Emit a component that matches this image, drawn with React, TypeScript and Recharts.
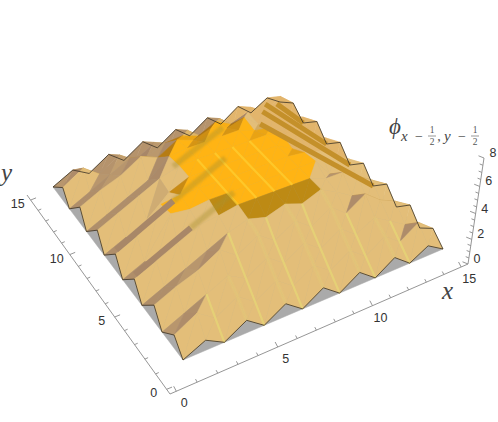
import { ScatterChart, Scatter, XAxis, YAxis } from 'recharts';

// surface heights, one row per y step
const row0 = [0, 0.8, 0, 1, 0, 1, 0, 1, 0, 1, 0, 1, 0, 0.8, 0];
const row1 = [0.8, 1.8, 0.8, 1.8, 0.8, 1.8, 0.8, 1.8, 0.8, 1.8, 0.8, 1.8, 0.8, 1.8, 0.8];
const row2 = [0, 0.8, 1.6, 2.4, 1.6, 2.6, 1.6, 2.6, 1.6, 2.6, 1.6, 2.4, 1.6, 0.8, 0];
const row3 = [1, 1.8, 2.4, 3.4, 2.4, 3.4, 2.4, 3.4, 2.4, 3.4, 2.4, 3.4, 2.4, 1.8, 1];
const row4 = [0, 0.8, 1.6, 2.4, 3.2, 3.7, 3.3, 3.8, 3.3, 3.9, 3.2, 2.4, 1.6, 0.8, 0];
const row5 = [1, 1.8, 2.6, 3.4, 3.6, 3.9, 3.9, 3.9, 3.9, 3.9, 3.4, 3.4, 2.6, 1.8, 1];
const row6 = [0, 0.8, 3.9, 3.7, 3.9, 3.9, 3.9, 3.9, 3.9, 3.9, 3.9, 2.4, 1.6, 0.8, 0];
const row7 = [1, 1.8, 3.7, 3.9, 3.9, 3.9, 3.9, 3.9, 3.9, 3.9, 3.75, 3.4, 2.6, 1.8, 1];
const row8 = [0, 0.8, 1.6, 3.2, 3.9, 3.9, 3.9, 3.9, 3.9, 3.9, 3.2, 2.4, 1.6, 0.8, 0];
const row9 = [1, 1.8, 2.6, 3.4, 3.9, 3.9, 3.9, 3.9, 3.9, 3.9, 3.5, 3.4, 2.6, 1.8, 1];
const row10 = [0, 0.8, 1.6, 2.4, 3.75, 3.9, 3.9, 3.9, 3.9, 3.4, 3.2, 2.4, 1.6, 0.8, 0];
const row11 = [1, 1.8, 2.4, 3.4, 2.8, 3.7, 3.2, 3.7, 3.2, 3.6, 2.6, 3.4, 2.4, 1.8, 1];
const row12 = [0, 0.8, 1.6, 2.4, 2, 2.6, 2.7, 2.2, 2.9, 2.2, 2.7, 2.4, 1.6, 0.8, 0];
const row13 = [0.8, 1.8, 0.8, 1.8, 0.8, 1.8, 0.8, 1.8, 0.8, 1.8, 0.8, 1.8, 0.8, 1.8, 0.8];
const row14 = [0, 0.8, 0, 1, 0, 1, 0, 1, 0, 1, 0, 1, 0, 0.8, 0];
const heights = [row0, row1, row2, row3, row4, row5, row6, row7, row8, row9, row10, row11, row12, row13, row14];

// 0 shaded tan, 1 orange top, 2 dark rim, 3 and 5 flat tan, 4 half orange
const cellKinds = [
  '00000000000000',
  '00000000000000',
  '00000000000000',
  '00000000000000',
  '00000222200000',
  '05552111140000',
  '05111111110000',
  '05511111113333',
  '00051111113333',
  '00001111113333',
  '00001111103333',
  '00000111103333',
  '00000000003333',
  '00000000003333',
];

// golden steps behind the top, from the right edge notches
const stepFrom = [[14, 6, 0], [14, 8, 0], [14, 10, 0], [14, 12, 0]];
const stepTo = [[9.3, 10, 3.8], [11, 12, 2.3], [12, 13, 1.6], [13.3, 13.5, 0.6]];

// dark bands of the left face, then seen through the orange top
const leftFrom = [[0.3, 5.5, 0.7], [0.3, 7.5, 0.7]];
const leftTo = [[2.9, 5.5, 2.8], [3, 7.5, 3]];
const bandFrom = [[2.9, 5.5, 2.8], [3, 7.5, 3], [4, 9.5, 3.4]];
const bandTo = [[5, 5.5, 4.4], [5.6, 7.5, 5], [6.6, 9.5, 5.2]];

const xTicks = [0, 5, 10, 15];
const yTicks = [0, 5, 10, 15];
const zTicks = [0, 2, 4, 6, 8];
const xyMinor = [1, 2, 3, 4, 6, 7, 8, 9, 11, 12, 13, 14];
const zMinor = [0.5, 1, 1.5, 2.5, 3, 3.5, 4.5, 5, 5.5, 6.5, 7, 7.5];

const N = 14;
type P = [number, number];

function persp(s: number, w: number) {
  return s / (s + (1 - s) * w);
}
function mix(a: P, b: P, t: number): P {
  return [a[0] + (b[0] - a[0]) * t, a[1] + (b[1] - a[1]) * t];
}

// view of the surface: left and right edges, then lerp across
function project(u: number, v: number, z: number): P {
  const l = mix([183, 360], [53, 187], persp(v / N, 0.866));
  const r = mix([443, 249], [280, 102], v / N);
  const g = mix(l, r, persp(u / N, 0.88));
  const k = 13.6 - (1.8 * (u + v)) / (2 * N);
  return [g[0] + 0.16 * k * z, g[1] - k * z];
}

function mark(pts: P[], extra: object) {
  const x = pts.reduce((s, p) => s + p[0], 0) / pts.length;
  const y = pts.reduce((s, p) => s + p[1], 0) / pts.length;
  return { x, y, d: pts.map((p) => [p[0] - x, p[1] - y]), ...extra };
}

function lerpColor(a: number[], b: number[], t: number) {
  const c = a.map((v, i) => Math.round(v + (b[i] - v) * t));
  return `rgb(${c[0]},${c[1]},${c[2]})`;
}

function triColor(p: number[][], kind: string) {
  if (kind === '2') return '#bd8a14';
  if (kind === '3') return '#e2b56c';
  if (kind === '5') return '#e3be79';
  const a = [p[1][0] - p[0][0], p[1][1] - p[0][1], p[1][2] - p[0][2]];
  const b = [p[2][0] - p[0][0], p[2][1] - p[0][1], p[2][2] - p[0][2]];
  let n = [a[1] * b[2] - a[2] * b[1], a[2] * b[0] - a[0] * b[2], a[0] * b[1] - a[1] * b[0]];
  if (n[2] < 0) n = n.map((c) => -c);
  const len = Math.hypot(n[0], n[1], n[2]);
  const dot = (n[0] * 0.1 - n[1] * 0.6 + n[2] * 0.8) / len;
  const t = Math.max(0, Math.min(1, dot / 0.6));
  if (kind === '1') return lerpColor([170, 115, 20], [255, 180, 20], t);
  const dark = n[0] > 0 ? [178, 132, 48] : [168, 135, 104];
  return lerpColor(dark, [227, 190, 121], t);
}

const facets: object[] = [];
for (let sum = 2 * N - 2; sum >= 0; sum--) {
  for (let v = 0; v < N; v++) {
    const u = sum - v;
    if (u < 0 || u >= N) continue;
    const c = [
      [u, v, heights[v][u]],
      [u + 1, v, heights[v][u + 1]],
      [u + 1, v + 1, heights[v + 1][u + 1]],
      [u, v + 1, heights[v + 1][u]],
    ];
    const kind = cellKinds[v][u];
    const tris = [[c[0], c[2], c[3]], [c[0], c[1], c[2]]];
    tris.forEach((tri, i) => {
      const k = kind === '4' ? (i === 0 ? '1' : '5') : kind;
      facets.push(mark(tri.map((q) => project(q[0], q[1], q[2])), { fill: triColor(tri, k) }));
    });
  }
}

const floor = [mark([project(0, 0, 0), project(N, 0, 0), project(N, N, 0), project(0, N, 0)], { fill: '#aaaaaa' })];

const edges: object[] = [];
for (let i = 0; i < N; i++) {
  edges.push(mark([project(i, 0, heights[0][i]), project(i + 1, 0, heights[0][i + 1])], {}));
  edges.push(mark([project(0, i, heights[i][0]), project(0, i + 1, heights[i + 1][0])], {}));
  edges.push(mark([project(N, i, heights[i][N]), project(N, i + 1, heights[i + 1][N])], {}));
  edges.push(mark([project(i, N, heights[N][i]), project(i + 1, N, heights[N][i + 1])], {}));
}

function alongV(u: number, from: number, to: number) {
  const pts: P[] = [];
  for (let v = from; v <= to; v++) pts.push(project(u, v, heights[v][u]));
  return mark(pts, {});
}
const between = (a: number[], b: number[]) => mark([project(a[0], a[1], a[2]), project(b[0], b[1], b[2])], {});

// pale ridges running up the front face
const stripes = [alongV(2, 0, 2), alongV(4, 0, 4), alongV(6, 0, 4), alongV(8, 0, 4), alongV(10, 0, 3), alongV(12, 0, 2)];
const softStripes = [alongV(3, 0, 2), alongV(5, 0, 4), alongV(7, 0, 4), alongV(9, 0, 4), alongV(11, 0, 2)];
const plateauStripes = [alongV(5, 5, 9), alongV(6, 5, 9), alongV(7, 5, 9), alongV(8, 5, 9)];
const plateauBands = bandFrom.map((a, i) => between(a, bandTo[i]));
const leftBands = leftFrom.map((a, i) => between(a, leftTo[i]));
const steps = stepFrom.map((a, i) => between(a, stepTo[i]));

// box axes
const corner: P = [170, 394];
const xEnd: P = [468, 264];
const yEnd: P = [27, 195];
const zEnd: P = [484, 158];
const xAt = (t: number) => mix(corner, xEnd, persp((t + 0.3) / 15.7, 0.9));
const yAt = (t: number) => mix(corner, yEnd, persp((t + 0.3) / 15.8, 0.8));
const zAt = (t: number) => mix(xEnd, zEnd, persp(t / 8, 1.1));

const axisLines = [mark([yEnd, corner, xEnd, zEnd], {})];
const tick = (p: P, dx: number, dy: number) => mark([p, [p[0] + dx, p[1] + dy]], {});
const ticks = [
  ...xTicks.map((t) => tick(xAt(t), -2.6, -5)),
  ...xyMinor.map((t) => tick(xAt(t), -1.6, -3)),
  ...yTicks.map((t) => tick(yAt(t), 5.4, -2.2)),
  ...xyMinor.map((t) => tick(yAt(t), 3.2, -1.4)),
  ...zTicks.map((t) => tick(zAt(t), -5.5, -2.2)),
  ...zMinor.map((t) => tick(zAt(t), -3.2, -1.3)),
];

const label = (p: P, dx: number, dy: number, text: string) => ({ x: p[0] + dx, y: p[1] + dy, text });
const labels = [
  ...xTicks.map((t) => label(xAt(t), 8, 16, String(t))),
  ...yTicks.map((t) => label(yAt(t), -13, 8, String(t))),
  ...zTicks.map((t) => label(zAt(t), 9, -1, String(t))),
];

const titles = [{ x: 0, y: 0 }];

const pointsOf = (props: any) => props.payload.d.map((p: number[]) => `${props.cx + p[0]},${props.cy + p[1]}`).join(' ');

function Poly(props: any) {
  const { payload } = props;
  return <polygon points={pointsOf(props)} fill={payload.fill} stroke={payload.fill} strokeWidth={0.5} strokeLinejoin="round" />;
}

function Edge(props: any) {
  return <polyline points={pointsOf(props)} fill="none" stroke="#3a3226" strokeWidth={0.8} />;
}

function Stripe(props: any) {
  return <polyline points={pointsOf(props)} fill="none" stroke="#e6d575" strokeWidth={2.2} strokeOpacity={0.8} style={{ filter: 'blur(0.7px)' }} />;
}

function SoftStripe(props: any) {
  return <polyline points={pointsOf(props)} fill="none" stroke="#e6d575" strokeWidth={2} strokeOpacity={0.45} style={{ filter: 'blur(0.8px)' }} />;
}

function PlateauStripe(props: any) {
  return <polyline points={pointsOf(props)} fill="none" stroke="#ffd030" strokeWidth={2.2} strokeOpacity={0.7} style={{ filter: 'blur(0.7px)' }} />;
}

function PlateauBand(props: any) {
  return <polyline points={pointsOf(props)} fill="none" stroke="#a89030" strokeWidth={6} strokeOpacity={0.4} style={{ filter: 'blur(1px)' }} />;
}

function LeftBand(props: any) {
  return <polyline points={pointsOf(props)} fill="none" stroke="#a88768" strokeWidth={6} />;
}

function Step(props: any) {
  return <polyline points={pointsOf(props)} fill="none" stroke="#c4902a" strokeWidth={5} style={{ filter: 'blur(0.4px)' }} />;
}

function AxisLine(props: any) {
  return <polyline points={pointsOf(props)} fill="none" stroke="#8a8a8a" strokeWidth={0.9} />;
}

function TickLabel(props: any) {
  const { cx, cy, payload } = props;
  return (
    <text x={cx} y={cy} textAnchor="middle" fontFamily="Liberation Sans" fontSize={12.5} fill="#333">
      {payload.text}
    </text>
  );
}

function Titles(props: any) {
  const { cx, cy } = props;
  const serif = { fontFamily: 'Liberation Serif', fontStyle: 'italic', fill: '#444' } as const;
  const plain = { fontFamily: 'Liberation Serif', fill: '#555', textAnchor: 'middle' } as const;
  return (
    <g>
      <text x={cx + 442} y={cy + 299} fontSize={25} {...serif}>x</text>
      <text x={cx + 1} y={cy + 181} fontSize={25} {...serif}>y</text>
      <text x={cx + 389} y={cy + 134} fontSize={23} {...serif}>ϕ</text>
      <text x={cx + 401} y={cy + 141} fontSize={15} {...serif}>x</text>
      <text x={cx + 419} y={cy + 141} fontSize={14} {...plain}>−</text>
      <text x={cx + 432} y={cy + 133} fontSize={9.5} {...plain}>1</text>
      <line x1={cx + 428} x2={cx + 436} y1={cy + 136} y2={cy + 136} stroke="#555" strokeWidth={0.6} />
      <text x={cx + 432} y={cy + 145} fontSize={9.5} {...plain}>2</text>
      <text x={cx + 439} y={cy + 141} fontSize={14} {...plain}>,</text>
      <text x={cx + 444} y={cy + 141} fontSize={15} {...serif}>y</text>
      <text x={cx + 462} y={cy + 141} fontSize={14} {...plain}>−</text>
      <text x={cx + 475} y={cy + 133} fontSize={9.5} {...plain}>1</text>
      <line x1={cx + 471} x2={cx + 479} y1={cy + 136} y2={cy + 136} stroke="#555" strokeWidth={0.6} />
      <text x={cx + 475} y={cy + 145} fontSize={9.5} {...plain}>2</text>
    </g>
  );
}

export default function App() {
  return (
    <div style={{ position: 'absolute', left: 0, top: 0 }}>
      <ScatterChart width={498} height={422} margin={{ top: 0, right: 0, bottom: 0, left: 0 }}>
        <XAxis type="number" dataKey="x" domain={[0, 498]} hide allowDataOverflow />
        <YAxis type="number" dataKey="y" domain={[0, 422]} reversed hide allowDataOverflow />
        <Scatter data={axisLines} shape={AxisLine} isAnimationActive={false} />
        <Scatter data={ticks} shape={AxisLine} isAnimationActive={false} />
        <Scatter data={labels} shape={TickLabel} isAnimationActive={false} />
        <Scatter data={floor} shape={Poly} isAnimationActive={false} />
        <Scatter data={facets} shape={Poly} isAnimationActive={false} />
        <Scatter data={stripes} shape={Stripe} isAnimationActive={false} />
        <Scatter data={softStripes} shape={SoftStripe} isAnimationActive={false} />
        <Scatter data={steps} shape={Step} isAnimationActive={false} />
        <Scatter data={leftBands} shape={LeftBand} isAnimationActive={false} />
        <Scatter data={plateauStripes} shape={PlateauStripe} isAnimationActive={false} />
        <Scatter data={plateauBands} shape={PlateauBand} isAnimationActive={false} />
        <Scatter data={edges} shape={Edge} isAnimationActive={false} />
        <Scatter data={titles} shape={Titles} isAnimationActive={false} />
      </ScatterChart>
    </div>
  );
}
